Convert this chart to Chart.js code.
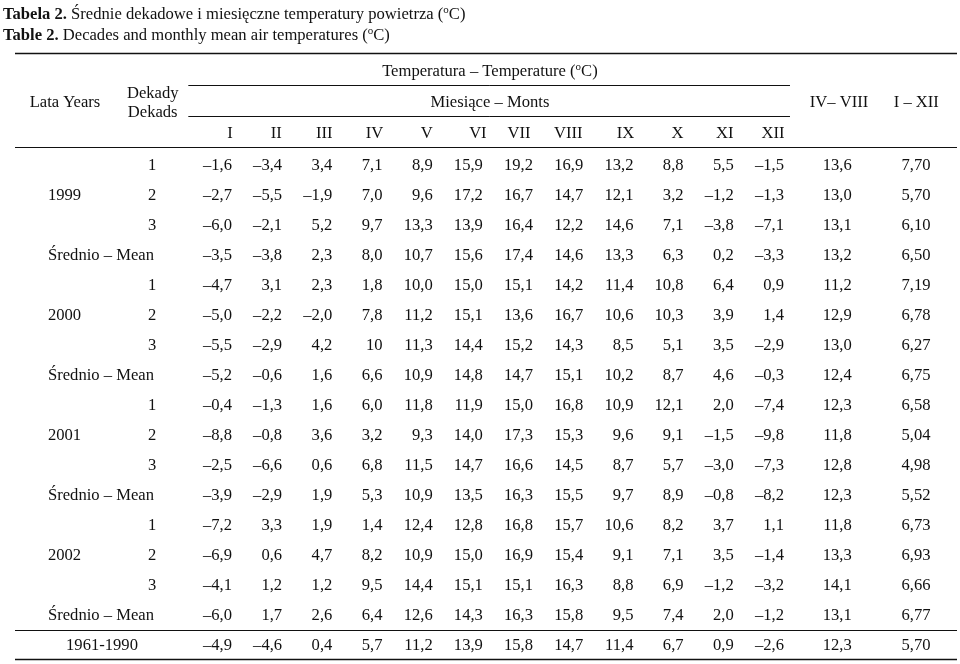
<!DOCTYPE html>
<html>
<head>
<meta charset="utf-8">
<script src="https://cdn.jsdelivr.net/npm/chart.js@4/dist/chart.umd.min.js"></script>
<style>
  html, body { margin: 0; padding: 0; background: #fff; }
</style>
</head>
<body>
<canvas id="temperature-table" width="960" height="664"></canvas>
<script>
// table content
const years = ['1999', '2000', '2001', '2002'];
const dekads = ['1', '2', '3'];
const meanLabel = 'Średnio – Mean';
const normalLabel = '1961-1990';
const months = ['I', 'II', 'III', 'IV', 'V', 'VI', 'VII', 'VIII', 'IX', 'X', 'XI', 'XII'];
const seasonLabel = 'IV– VIII';
const annualLabel = 'I – XII';

// each row: 12 months, then IV-VIII, then I-XII
const t1999 = [
    ['-1,6', '-3,4', '3,4', '7,1', '8,9', '15,9', '19,2', '16,9', '13,2', '8,8', '5,5', '-1,5', '13,6', '7,70'],
    ['-2,7', '-5,5', '-1,9', '7,0', '9,6', '17,2', '16,7', '14,7', '12,1', '3,2', '-1,2', '-1,3', '13,0', '5,70'],
    ['-6,0', '-2,1', '5,2', '9,7', '13,3', '13,9', '16,4', '12,2', '14,6', '7,1', '-3,8', '-7,1', '13,1', '6,10'],
    ['-3,5', '-3,8', '2,3', '8,0', '10,7', '15,6', '17,4', '14,6', '13,3', '6,3', '0,2', '-3,3', '13,2', '6,50']
];
const t2000 = [
    ['-4,7', '3,1', '2,3', '1,8', '10,0', '15,0', '15,1', '14,2', '11,4', '10,8', '6,4', '0,9', '11,2', '7,19'],
    ['-5,0', '-2,2', '-2,0', '7,8', '11,2', '15,1', '13,6', '16,7', '10,6', '10,3', '3,9', '1,4', '12,9', '6,78'],
    ['-5,5', '-2,9', '4,2', '10', '11,3', '14,4', '15,2', '14,3', '8,5', '5,1', '3,5', '-2,9', '13,0', '6,27'],
    ['-5,2', '-0,6', '1,6', '6,6', '10,9', '14,8', '14,7', '15,1', '10,2', '8,7', '4,6', '-0,3', '12,4', '6,75']
];
const t2001 = [
    ['-0,4', '-1,3', '1,6', '6,0', '11,8', '11,9', '15,0', '16,8', '10,9', '12,1', '2,0', '-7,4', '12,3', '6,58'],
    ['-8,8', '-0,8', '3,6', '3,2', '9,3', '14,0', '17,3', '15,3', '9,6', '9,1', '-1,5', '-9,8', '11,8', '5,04'],
    ['-2,5', '-6,6', '0,6', '6,8', '11,5', '14,7', '16,6', '14,5', '8,7', '5,7', '-3,0', '-7,3', '12,8', '4,98'],
    ['-3,9', '-2,9', '1,9', '5,3', '10,9', '13,5', '16,3', '15,5', '9,7', '8,9', '-0,8', '-8,2', '12,3', '5,52']
];
const t2002 = [
    ['-7,2', '3,3', '1,9', '1,4', '12,4', '12,8', '16,8', '15,7', '10,6', '8,2', '3,7', '1,1', '11,8', '6,73'],
    ['-6,9', '0,6', '4,7', '8,2', '10,9', '15,0', '16,9', '15,4', '9,1', '7,1', '3,5', '-1,4', '13,3', '6,93'],
    ['-4,1', '1,2', '1,2', '9,5', '14,4', '15,1', '15,1', '16,3', '8,8', '6,9', '-1,2', '-3,2', '14,1', '6,66'],
    ['-6,0', '1,7', '2,6', '6,4', '12,6', '14,3', '16,3', '15,8', '9,5', '7,4', '2,0', '-1,2', '13,1', '6,77']
];
const normal1961 = ['-4,9', '-4,6', '0,4', '5,7', '11,2', '13,9', '15,8', '14,7', '11,4', '6,7', '0,9', '-2,6', '12,3', '5,70'];

// layout: x in column slots (month n sits at n), y in row units (data row r sits at r)
const INK = '#111';
const FONT = '16.6px "Liberation Serif", "Times New Roman", serif';
const BOLD = 'bold 16.6px "Liberation Serif", "Times New Roman", serif';
const X_RANGE = [-3.623, 15.508];
const Y_RANGE = [-5.456, 16.633];
const valueSlots = [1, 2, 3, 4, 5, 6, 7, 8, 9, 10, 11, 12, 13.35, 14.92];
const dekadSlot = -0.51;
const yearSlot = -2.667;
const monthHeadShift = [2, 6, 8, 8, 6, 5, 14, 15, 8, 6, 9, 11];
const baselineDrop = 5.5;

let tableRows = [].concat(t1999, t2000, t2001, t2002, [normal1961]);

function dash(s){
    return s.replace('-', '\u2013');
}

// text with bold / superscript parts, aligned around x
function drawRich(ctx, parts, x, y, align){
    let widths = parts.map(p => {
        ctx.font = p.bold ? BOLD : (p.sup ? '11px "Liberation Serif", serif' : FONT);
        return ctx.measureText(p.t).width;
    });
    let total = widths.reduce((a, b) => a + b, 0);
    let cx = align === 'center' ? x - total / 2 : (align === 'right' ? x - total : x);
    ctx.textAlign = 'left';
    parts.forEach((p, i) => {
        ctx.font = p.bold ? BOLD : (p.sup ? '11px "Liberation Serif", serif' : FONT);
        ctx.fillText(p.t, cx, p.sup ? y - 6 : y);
        cx += widths[i];
    });
}

const tablePlugin = {
    id: 'tableText',
    afterDatasetsDraw(chart){
        const ctx = chart.ctx;
        const xs = chart.scales.x;
        const ys = chart.scales.y;
        const px = v => xs.getPixelForValue(v);
        const py = v => ys.getPixelForValue(v);

        ctx.save();
        ctx.fillStyle = INK;
        ctx.strokeStyle = INK;
        ctx.textBaseline = 'alphabetic';

        //title
        drawRich(ctx, [{t: 'Tabela 2.', bold: true}, {t: ' Średnie dekadowe i miesięczne temperatury powietrza ('}, {t: 'o', sup: true}, {t: 'C)'}], 3, 19, 'left');
        drawRich(ctx, [{t: 'Table 2.', bold: true}, {t: ' Decades and monthly mean air temperatures ('}, {t: 'o', sup: true}, {t: 'C)'}], 3, 39.5, 'left');

        //rules
        function rule(x0, x1, y, w){
            ctx.lineWidth = w;
            ctx.beginPath();
            ctx.moveTo(px(x0), Math.round(py(y)) + 0.5);
            ctx.lineTo(px(x1), Math.round(py(y)) + 0.5);
            ctx.stroke();
        }
        rule(-3.324, 15.448, -3.683, 1.4);
        rule(0.13, 12.12, -2.628, 1);
        rule(0.13, 12.12, -1.597, 1);
        rule(-3.324, 15.448, -0.582, 1.2);
        rule(-3.324, 15.448, 15.486, 1.2);
        rule(-3.324, 15.448, 16.477, 1.4);

        //header
        ctx.font = FONT;
        drawRich(ctx, [{t: 'Temperatura – Temperature ('}, {t: 'o', sup: true}, {t: 'C)'}], px(6.14), py(-3.11) + baselineDrop, 'center');
        drawRich(ctx, [{t: 'Miesiące – Monts'}], px(6.14), py(-2.096) + baselineDrop, 'center');
        drawRich(ctx, [{t: 'Lata Years'}], px(-2.328), py(-2.096) + baselineDrop, 'center');
        drawRich(ctx, [{t: 'Dekady'}], px(-0.58), py(-2.395) + baselineDrop, 'center');
        drawRich(ctx, [{t: 'Dekads'}], px(-0.58), py(-1.747) + baselineDrop, 'center');
        drawRich(ctx, [{t: seasonLabel}], px(13.096), py(-2.096) + baselineDrop, 'center');
        drawRich(ctx, [{t: annualLabel}], px(14.637), py(-2.096) + baselineDrop, 'center');
        months.forEach((m, i) => {
            drawRich(ctx, [{t: m}], px(i + 1) - monthHeadShift[i], py(-1.048) + baselineDrop, 'center');
        });

        //row labels
        ctx.font = FONT;
        years.forEach((yr, g) => {
            let base = g * 4;
            ctx.textAlign = 'left';
            ctx.fillText(yr, px(yearSlot), py(base + 1) + baselineDrop);
            dekads.forEach((d, k) => {
                ctx.textAlign = 'right';
                ctx.fillText(d, px(dekadSlot), py(base + k) + baselineDrop);
            });
            ctx.textAlign = 'left';
            ctx.fillText(meanLabel, px(yearSlot), py(base + 3) + baselineDrop);
        });
        ctx.textAlign = 'center';
        ctx.fillText(normalLabel, px(-1.59), py(16) + baselineDrop);

        //cells, placed at the points the library computed
        ctx.textAlign = 'right';
        chart.data.datasets.forEach((ds, i) => {
            chart.getDatasetMeta(i).data.forEach((el, j) => {
                ctx.fillText(dash(ds.data[j].txt), el.x, el.y + baselineDrop);
            });
        });
        ctx.restore();
    }
};

let table_ctx = document.getElementById('temperature-table');

let table_chart = new Chart(table_ctx, {
    type: 'scatter',
    data: {
        datasets: valueSlots.map((slot, c) => ({
            data: tableRows.map((row, r) => ({x: slot, y: r, txt: row[c]})),
            pointRadius: 0,
            pointHoverRadius: 0
        }))
    },
    options: {
        responsive: false,
        devicePixelRatio: 1,
        animation: false,
        events: [],
        layout: { padding: 0 },
        plugins: {
            legend: { display: false },
            tooltip: { enabled: false }
        },
        scales: {
            x: { type: 'linear', display: false, min: X_RANGE[0], max: X_RANGE[1] },
            y: { type: 'linear', display: false, reverse: true, min: Y_RANGE[0], max: Y_RANGE[1] }
        }
    },
    plugins: [tablePlugin]
});
</script>
</body>
</html>
